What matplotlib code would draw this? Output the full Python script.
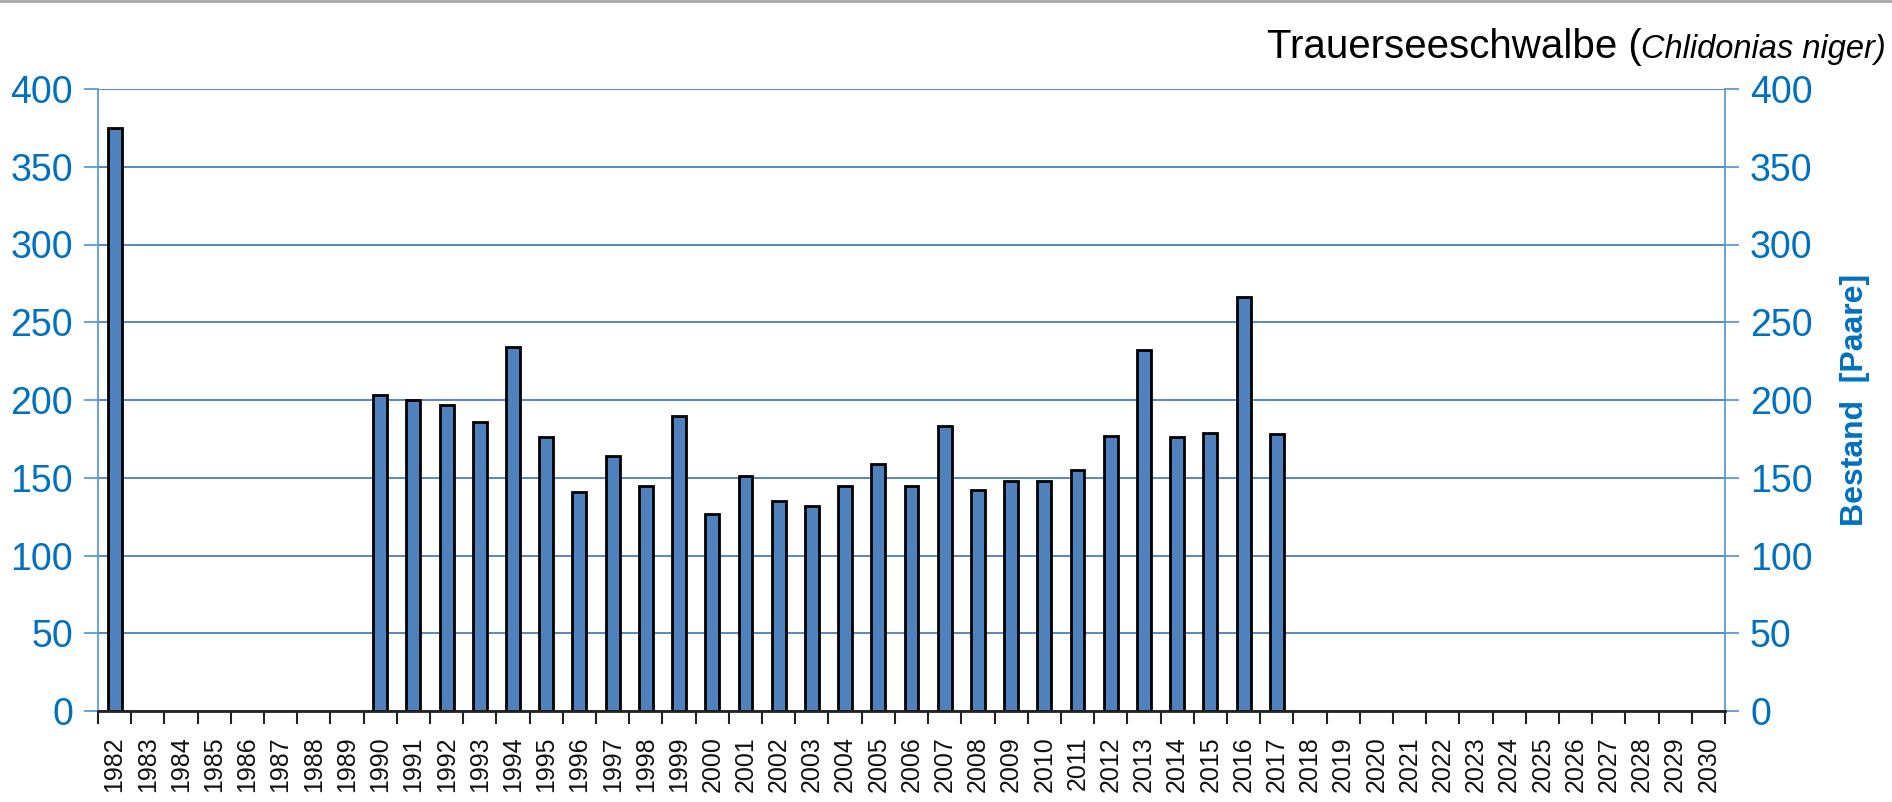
import matplotlib
matplotlib.use("Agg")
import matplotlib.pyplot as plt
from matplotlib.lines import Line2D
import numpy as np

plt.rcParams['font.family'] = ['Liberation Sans', 'DejaVu Sans']

# ---- data ----
year_labels = [str(y) for y in range(1982, 2031)]
bar_years = [1982, 1990, 1991, 1992, 1993, 1994, 1995, 1996, 1997, 1998, 1999,
             2000, 2001, 2002, 2003, 2004, 2005, 2006, 2007, 2008, 2009, 2010,
             2011, 2012, 2013, 2014, 2015, 2016, 2017]
bar_values = [375, 203, 200, 197, 186, 234, 176, 141, 164, 145, 190,
              127, 151, 135, 132, 145, 159, 145, 183, 142, 148, 148,
              155, 177, 232, 176, 179, 266, 178]
y_ticks = [0, 50, 100, 150, 200, 250, 300, 350, 400]
title_main = "Trauerseeschwalbe ("
title_italic = "Chlidonias niger)"
ylabel_right = "Bestand  [Paare]"

BLUE_TXT = '#0070C0'
GRID = '#4A7EBB'
SPINE_BLUE = '#5B9BD5'
BAR = '#4F81BD'

fig = plt.figure(figsize=(18.92, 8.02), dpi=100)
ax = fig.add_axes([98/1892, 1-711/802, (1725-98)/1892, (711-89)/802])

pos = [year_labels.index(str(y)) for y in bar_years]
ax.bar(pos, bar_values, width=0.42, color=BAR, edgecolor='black', linewidth=2, zorder=3)

ax.set_xlim(-0.5, len(year_labels) - 0.5)
ax.set_ylim(0, 400)
ax.set_yticks(y_ticks)
ax.yaxis.grid(True, color=GRID, linewidth=1.3, zorder=0)
ax.set_axisbelow(True)

# x ticks: labels at centres, tick marks at boundaries
ax.set_xticks(np.arange(len(year_labels)))
ax.set_xticklabels(year_labels, rotation=90, fontsize=18, color='#111111')
ax.set_xticks(np.arange(-0.5, len(year_labels)), minor=True)
ax.tick_params(axis='x', which='major', length=0, pad=18)
ax.tick_params(axis='x', which='minor', length=9, width=1.5, color='#222222')

ax.tick_params(axis='y', which='major', left=True, right=True, labelleft=True,
               labelright=True, length=10, width=1.3, color=SPINE_BLUE,
               labelcolor=BLUE_TXT, labelsize=27, pad=8)

ax.spines['top'].set_visible(False)
ax.spines['left'].set_color(SPINE_BLUE)
ax.spines['right'].set_color(SPINE_BLUE)
ax.spines['left'].set_linewidth(1.3)
ax.spines['right'].set_linewidth(1.3)
ax.spines['bottom'].set_color('#222222')
ax.spines['bottom'].set_linewidth(2)
ax.spines['bottom'].set_zorder(4)

ax.yaxis.set_label_position('right')
ax.set_ylabel(ylabel_right, fontsize=23, fontweight='bold', color=BLUE_TXT, labelpad=20)

# title in two parts, right aligned
ty = 1 - 58/802
t2 = fig.text(1886/1892, ty, title_italic, fontsize=23.5, style='italic',
              ha='right', va='baseline', color='black')
fig.canvas.draw()
bb = t2.get_window_extent(fig.canvas.get_renderer())
x0 = bb.x0 / fig.bbox.width
fig.text(x0, ty, title_main, fontsize=29, ha='right', va='baseline', color='black')

fig.add_artist(Line2D([0, 1], [0.9985, 0.9985], color='#A6A6A6', lw=2, transform=fig.transFigure))

fig.savefig('out.png', dpi=100)
